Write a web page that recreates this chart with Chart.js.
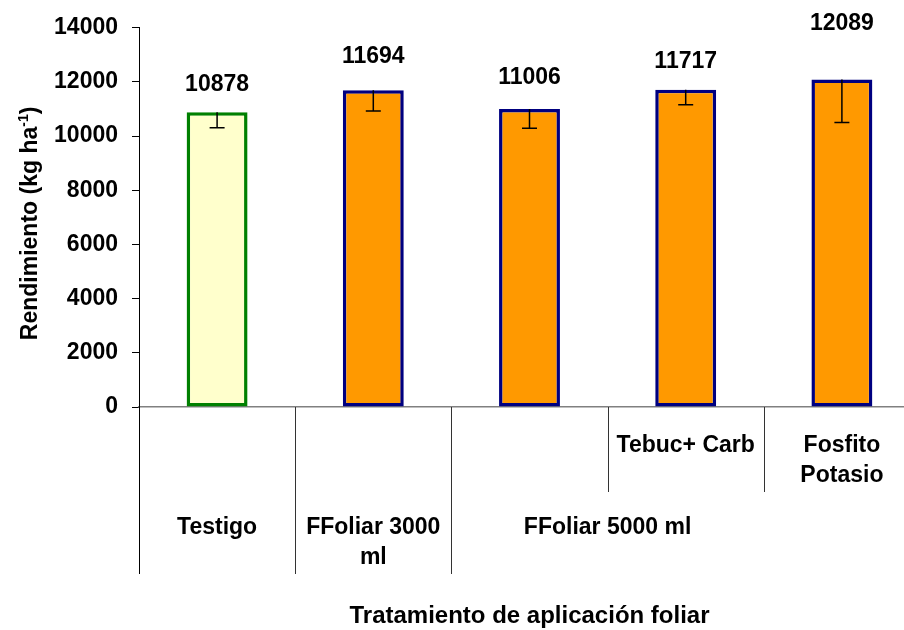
<!DOCTYPE html>
<html>
<head>
<meta charset="utf-8">
<script src="https://cdn.jsdelivr.net/npm/chart.js@4.4.0/dist/chart.umd.min.js"></script>
<style>
  html, body { margin: 0; padding: 0; overflow: hidden; background: #fff; }
</style>
</head>
<body>
<canvas id="chart" width="940" height="630"></canvas>
<script>
// data
const categories = ['Testigo', 'FFoliar 3000 ml', 'FFoliar 5000 ml', 'FFoliar 5000 ml Tebuc+ Carb', 'FFoliar 5000 ml Fosfito Potasio'];
const innerLabels = [[], [], [], ['Tebuc+ Carb'], ['Fosfito', 'Potasio']];
const groupLabels = [['Testigo'], ['FFoliar 3000', 'ml'], ['FFoliar 5000 ml']];
const groupFrom = [0, 1, 2];
const groupTo = [0, 1, 4];
const yields = [10878, 11694, 11006, 11717, 12089];
const errors = [571, 765, 710, 558, 1589];   // lower error bars only
const yMin = 0, yMax = 14000, yStep = 2000;
const yTitle = 'Rendimiento (kg ha';
const yTitleSup = '-1';
const xTitle = 'Tratamiento de aplicación foliar';

const fills = ['#FFFFCC', '#FF9900', '#FF9900', '#FF9900', '#FF9900'];
const borders = ['#008000', '#000080', '#000080', '#000080', '#000080'];

const FONT = "'Liberation Sans', Arial, sans-serif";
Chart.defaults.font.family = FONT;

//error bars + labels on top
const barExtras = {
  id: 'barExtras',
  afterDatasetsDraw(chart) {
    const c = chart.ctx;
    const x = chart.scales.x, y = chart.scales.y;
    c.save();
    c.strokeStyle = '#000';
    c.lineWidth = 1.5;
    for (let i = 0; i < yields.length; i++) {
      const px = x.getPixelForValue(i);
      const top = y.getPixelForValue(yields[i]);
      const low = y.getPixelForValue(yields[i] - errors[i]);
      c.beginPath();
      c.moveTo(px, top);
      c.lineTo(px, low);
      c.moveTo(px - 7.5, low);
      c.lineTo(px + 7.5, low);
      c.stroke();
    }
    c.fillStyle = '#000';
    c.font = 'bold 23px ' + FONT;
    c.textAlign = 'center';
    c.textBaseline = 'bottom';
    for (let i = 0; i < yields.length; i++) {
      const px = x.getPixelForValue(i);
      const py = y.getPixelForValue(yields[i] + errors[i]) - 1;
      c.fillText(String(yields[i]), px, py);
    }
    c.restore();
  }
};

// two-level category table under the axis + axis titles
const outerLabelAt = [0, 1, 2.5];
const categoryTable = {
  id: 'categoryTable',
  afterDraw(chart) {
    const c = chart.ctx;
    const x = chart.scales.x;
    const area = chart.chartArea;
    const base = area.bottom;
    const outerBottom = base + 167;
    const innerBottom = base + 85;
    c.save();
    c.lineWidth = 1;
    // outer separators
    const outerEdges = groupFrom.map(f => f - 0.5).concat([groupTo[groupTo.length - 1] + 0.5]);
    outerEdges.forEach((v, k) => {
      const px = Math.round(x.getPixelForValue(v)) + 0.5;
      c.strokeStyle = k === 0 ? '#000' : '#333';
      c.beginPath();
      c.moveTo(px, base);
      c.lineTo(px, outerBottom);
      c.stroke();
    });
    // inner separators inside groups
    c.strokeStyle = '#333';
    for (let g = 0; g < groupFrom.length; g++) {
      for (let i = groupFrom[g] + 1; i <= groupTo[g]; i++) {
        const px = Math.round(x.getPixelForValue(i - 0.5)) + 0.5;
        c.beginPath();
        c.moveTo(px, base);
        c.lineTo(px, innerBottom);
        c.stroke();
      }
    }
    c.fillStyle = '#000';
    c.font = 'bold 23px ' + FONT;
    c.textAlign = 'center';
    c.textBaseline = 'alphabetic';
    innerLabels.forEach((lines, i) => {
      const px = x.getPixelForValue(i);
      lines.forEach((t, j) => c.fillText(t, px, base + 45 + j * 30));
    });
    groupLabels.forEach((lines, g) => {
      const px = x.getPixelForValue(outerLabelAt[g]);
      lines.forEach((t, j) => c.fillText(t, px, base + 127 + j * 30));
    });
    // x title
    c.font = 'bold 24px ' + FONT;
    c.fillText(xTitle, (area.left + area.right) / 2, 623);
    // y title with superscript
    c.translate(37, (area.top + area.bottom) / 2 + 6);
    c.rotate(-Math.PI / 2);
    c.font = 'bold 23px ' + FONT;
    const w1 = c.measureText(yTitle).width;
    c.font = 'bold 14px ' + FONT;
    const w2 = c.measureText(yTitleSup).width;
    c.font = 'bold 23px ' + FONT;
    const w3 = c.measureText(')').width;
    let sx = -(w1 + w2 + w3) / 2;
    c.textAlign = 'left';
    c.fillText(yTitle, sx, 0);
    sx += w1;
    c.font = 'bold 14px ' + FONT;
    c.fillText(yTitleSup, sx, -9);
    sx += w2;
    c.font = 'bold 23px ' + FONT;
    c.fillText(')', sx, 0);
    c.restore();
  }
};

const ctx = document.getElementById('chart');
new Chart(ctx, {
  type: 'bar',
  data: {
    labels: categories,
    datasets: [{
      data: yields,
      backgroundColor: fills,
      borderColor: borders,
      borderWidth: 3.5,
      borderSkipped: false,
      barPercentage: 0.39,
      categoryPercentage: 1
    }]
  },
  options: {
    responsive: false,
    animation: false,
    layout: { padding: { top: 25, right: 20, left: 0, bottom: 0 } },
    plugins: {
      legend: { display: false },
      tooltip: { enabled: false }
    },
    scales: {
      x: {
        grid: { display: false },
        ticks: { display: false },
        border: { color: '#808080', width: 1.5 },
        afterFit(s) { s.height = 223; }
      },
      y: {
        min: yMin,
        max: yMax,
        ticks: {
          stepSize: yStep, padding: 14, color: '#000',
          font: { size: 23, weight: 'bold' },
          callback: v => String(v)
        },
        grid: { drawOnChartArea: false, drawTicks: true, tickLength: 7, color: '#000' },
        border: { color: '#000', width: 1 },
        afterFit(s) { s.width = 139; }
      }
    }
  },
  plugins: [barExtras, categoryTable]
});
</script>
</body>
</html>
